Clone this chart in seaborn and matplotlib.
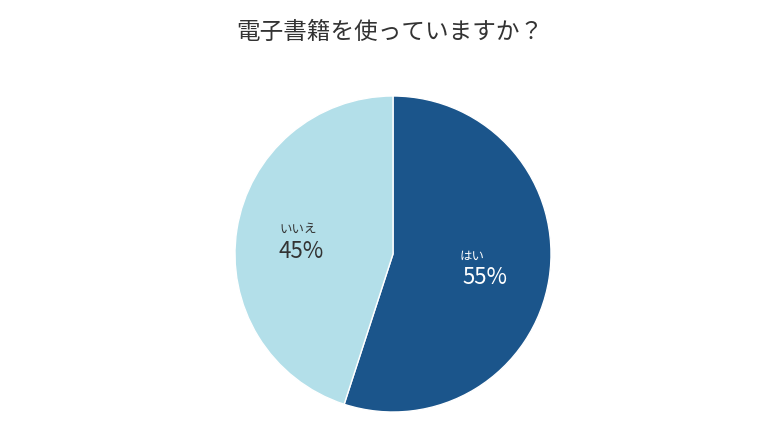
import matplotlib
matplotlib.use("Agg")
import matplotlib.pyplot as plt
import seaborn as sns

labels = ["はい", "いいえ"]
values = [55, 45]
colors = ["#1b558b", "#b3dfe9"]
title = "電子書籍を使っていますか？"

sns.set_theme(style="white")
plt.rcParams['font.family'] = ['Noto Sans CJK JP', 'DejaVu Sans']
pal = sns.color_palette(colors)

fig = plt.figure(figsize=(7.8, 4.27), dpi=100)
r = 158
ax = fig.add_axes([(393 - r) / 780, (427 - 255 - r) / 427, 2 * r / 780, 2 * r / 427])
ax.pie(values, colors=pal, startangle=90, counterclock=False,
       wedgeprops=dict(edgecolor="white", linewidth=1))
ax.set_xlim(-1, 1); ax.set_ylim(-1, 1)
ax.axis("off")

ax.text(0.5, -0.01, labels[0], color="white", fontsize=9, ha="center", va="center")
ax.text(0.58, -0.14, f"{values[0]}%", color="white", fontsize=16, ha="center", va="center")
ax.text(-0.6, 0.16, labels[1], color="#333333", fontsize=9, ha="center", va="center")
ax.text(-0.58, 0.02, f"{values[1]}%", color="#333333", fontsize=16, ha="center", va="center")

fig.text(0.5, 1 - 32 / 427, title, ha="center", va="center", fontsize=17, color="#333333")
fig.savefig("out.png", dpi=100, facecolor="white")
